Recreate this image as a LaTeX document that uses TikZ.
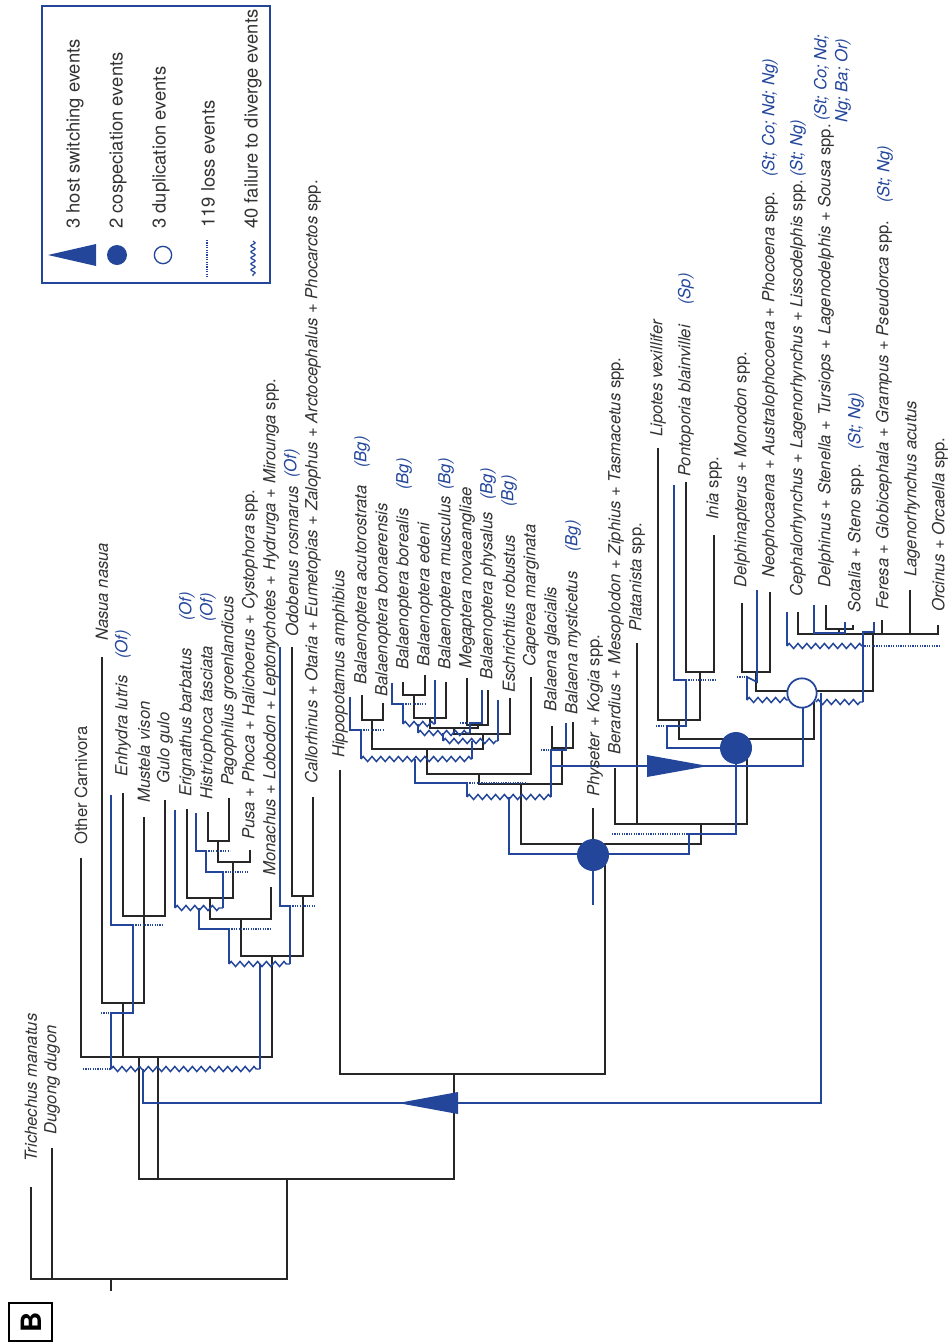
\documentclass[tikz,border=0pt]{standalone}
\usepackage{fontspec}
\setmainfont{TeX Gyre Heros}
\usetikzlibrary{decorations.pathmorphing}
\definecolor{psite}{RGB}{35,70,155}
\newcommand{\txn}[1]{\textit{#1}}
\tikzset{
  host/.style={draw=black!85, line width=1pt},
  para/.style={draw=psite, line width=1.25pt},
  loss/.style={draw=psite, line width=1.1pt, dash pattern=on 0.9pt off 0.9pt},
  ftd/.style={draw=psite, line width=1.1pt, decorate, decoration={zigzag, segment length=6.6pt, amplitude=1.9pt}},
  tipl/.style={rotate=90, anchor=west, inner sep=0pt, text=black!80, font=\fontsize{12.5}{14}\selectfont},
  legl/.style={tipl, font=\fontsize{13.8}{15}\selectfont},
  note/.style={tipl, text=psite, font=\fontsize{12.5}{14}\selectfont\itshape},
  evc/.style={circle, fill=psite, inner sep=0pt, minimum size=24pt},
  evd/.style={circle, draw=psite, fill=white, line width=1.3pt, inner sep=0pt, minimum size=22pt}
}
\begin{document}
\begin{tikzpicture}[x=0.75pt,y=0.75pt,yscale=-1,xscale=1]
\useasboundingbox (0,0) rectangle (949,1343);

%Legend
\draw [psite, line width=1.3pt] (42,6) rectangle (270,283);
\fill [psite] (96,244) -- (96,266) -- (48,255) -- cycle;
\node [evc, minimum size=15pt] (lgc) at (117,255) {};
\node [evd, minimum size=13pt, line width=1pt] (lgd) at (163,255) {};
\draw [loss, line width=0.8pt] (207,240) -- (207,277);
\draw [psite, line width=0.9pt, decorate, decoration={snake, segment length=4.5pt, amplitude=1.6pt}] (253,241) -- (253,276);
% Text Node
\draw (75,229) node [legl] (lg1) {3 host switching events};
\draw (118,229) node [legl] (lg2) {2 cospeciation events};
\draw (161,229) node [legl] (lg3) {3 duplication events};
\draw (208,228) node [legl] (lg4) {119 loss events};
\draw (253,229) node [legl] (lg5) {40 failure to diverge events};

%Panel letter
\draw [line width=1.6pt] (9,1303) rectangle (52,1341);
\draw (31,1322) node [rotate=90, font=\fontsize{21}{21}\selectfont\bfseries] (panel) {B};

%Host tree: root and Sirenia
\draw [host] (31,1187) -- (31,1279) -- (287,1279) -- (287,1179);
\draw [host] (52,1148) -- (52,1279);
\draw [host] (111,1279) -- (111,1291);
\draw [host] (139,1057) -- (139,1179) -- (454,1179) -- (454,1074);
\draw [host] (158,1057) -- (158,1179);
\draw [host] (340,770) -- (340,1074) -- (605,1074) -- (605,855);

%Host tree: Carnivora
\draw [host] (81,858) -- (81,1057) -- (272,1057) -- (272,956);
\draw [host] (102,657) -- (102,1003) -- (144,1003) -- (144,817);
\draw [host] (123,1003) -- (123,1057);
\draw [host] (123,793) -- (123,916) -- (165,916) -- (165,800);
\draw [host] (187,809) -- (187,898) -- (233,898) -- (233,862);
\draw [host] (218,841) -- (218,862) -- (250,862) -- (250,850);
\draw [host] (208,812) -- (208,841) -- (229,841) -- (229,798);
\draw [host] (210,898) -- (210,919) -- (271,919) -- (271,887);
\draw [host] (241,919) -- (241,956) -- (303,956) -- (303,896);
\draw [host] (292,647) -- (292,896) -- (313,896) -- (313,797);

%Host tree: Mysticeti
\draw [host] (362,695) -- (362,720) -- (383,720) -- (383,703);
\draw [host] (372,720) -- (372,749) -- (483,749) -- (483,734);
\draw [host] (403,682) -- (403,695) -- (425,695) -- (425,675);
\draw [host] (414,695) -- (414,718) -- (446,718) -- (446,682);
\draw [host] (467,678) -- (467,725) -- (488,725) -- (488,690);
\draw [host] (430,718) -- (430,728) -- (478,728) -- (478,725);
\draw [host] (454,728) -- (454,734) -- (510,734) -- (510,698);
\draw [host] (427,749) -- (427,774) -- (531,774) -- (531,677);
\draw [host] (552,726) -- (552,748) -- (573,748) -- (573,722);
\draw [host] (479,774) -- (479,784) -- (562,784) -- (562,748);
\draw [host] (521,784) -- (521,844) -- (701,844) -- (701,824);

%Host tree: Odontoceti
\draw [host] (593,808) -- (593,855);
\draw [host] (615,768) -- (615,824) -- (747,824) -- (747,748);
\draw [host] (637,643) -- (637,824);
\draw [host] (658,448) -- (658,720) -- (700,720) -- (700,672);
\draw [host] (686,482) -- (686,672) -- (714,672) -- (714,535);
\draw [host] (679,720) -- (679,739) -- (814,739) -- (814,693);
\draw [host] (742,603) -- (742,672) -- (770,672) -- (770,592);
\draw [host] (756,672) -- (756,691) -- (873,691) -- (873,634);
\draw [host] (798,612) -- (798,634) -- (938,634) -- (938,625);
\draw [host] (826,605) -- (826,629) -- (853,629) -- (853,625);
\draw [host] (839,629) -- (839,634);
\draw [host] (882,620) -- (882,634);
\draw [host] (910,590) -- (910,634);

%Parasite tracks: Carnivora
\draw [para] (821,693) -- (821,1103) -- (143,1103) -- (143,1069);
\draw [ftd] (111,1069) -- (260,1069);
\draw [loss] (83,1069) -- (111,1069);
\draw [para] (111,1069) -- (111,1013) -- (133,1013) -- (133,925) -- (111,925) -- (111,795);
\draw [loss] (101,1013) -- (111,1013);
\draw [loss] (133,925) -- (163,925);
\draw [para] (260,1069) -- (260,964);
\draw [ftd] (229,964) -- (290,964);
\draw [para] (229,964) -- (229,929) -- (199,929) -- (199,908);
\draw [loss] (229,929) -- (270,929);
\draw [para] (290,964) -- (290,906) -- (280,906) -- (280,647);
\draw [loss] (290,906) -- (315,906);
\draw [ftd] (175,908) -- (223,908);
\draw [para] (175,908) -- (175,810);
\draw [para] (223,908) -- (223,872) -- (206,872) -- (206,851) -- (196,851) -- (196,813);
\draw [loss] (223,872) -- (249,872);
\draw [loss] (206,851) -- (230,851);

%Parasite tracks: Mysticeti
\draw [para] (593,855) -- (593,905);
\draw [para] (509,797) -- (509,854) -- (689,854) -- (689,834) -- (736,834) -- (736,748);
\draw [loss] (612,834) -- (689,834);
\draw [ftd] (467,797) -- (551,797);
\draw [para] (467,797) -- (467,783) -- (415,783) -- (415,759);
\draw [loss] (467,783) -- (527,783);
\draw [para] (551,797) -- (551,750) -- (566,750) -- (566,723);
\draw [loss] (541,750) -- (551,750);
\draw [para] (551,766) -- (803,766) -- (803,693);
\draw [ftd] (361,759) -- (472,759);
\draw [para] (361,759) -- (361,730) -- (350,730) -- (350,697);
\draw [loss] (361,730) -- (383,730);
\draw [para] (472,759) -- (472,741);
\draw [ftd] (443,741) -- (498,741);
\draw [para] (498,741) -- (498,700);
\draw [para] (443,741) -- (443,733);
\draw [ftd] (418,733) -- (470,733);
\draw [para] (470,733) -- (470,723) -- (482,723) -- (482,690);
\draw [loss] (460,723) -- (470,723);
\draw [para] (418,733) -- (418,724);
\draw [ftd] (403,724) -- (435,724);
\draw [para] (435,724) -- (435,680);
\draw [para] (403,724) -- (403,704) -- (392,704) -- (392,683);
\draw [loss] (403,704) -- (426,704);

%Parasite tracks: Odontoceti
\draw [para] (736,748) -- (667,748) -- (667,726) -- (686,726) -- (686,680) -- (674,680) -- (674,485);
\draw [loss] (656,726) -- (667,726);
\draw [loss] (686,680) -- (715,680);
\draw [ftd] (747,700) -- (788,700);
\draw [ftd] (816,702) -- (863,702);
\draw [para] (757,590) -- (757,682) -- (747,677) -- (747,700);
\draw [loss] (737,677) -- (747,677);
\draw [para] (863,702) -- (863,632) -- (874,632) -- (874,622);
\draw [ftd] (787,646) -- (862,646);
\draw [para] (787,646) -- (787,612);
\draw [loss] (862,646) -- (940,646);
\draw [para] (814,605) -- (814,633) -- (845,633) -- (845,622);

%Events
\fill [psite] (458,1092) -- (458,1114) -- (398,1103) -- cycle;
\fill [psite] (647,755) -- (647,777) -- (708,766) -- cycle;
\node [evc] (cosp1) at (593,855) {};
\node [evc] (cosp2) at (736,748) {};
\node [evd] (dup1) at (802,693) {};

% Text Node
\draw (31,1162) node [tipl] (trich) {\txn{Trichechus manatus}};
\draw (52,1135) node [tipl] (dugong) {\txn{Dugong dugon}};
\draw (81,845) node [tipl] (othcarn) {Other Carnivora};
\draw (102,641) node [tipl] (nasua) {\txn{Nasua nasua}};
\draw (123,777) node [tipl] (enhydra) {\txn{Enhydra lutris}};
\draw (123,659) node [note] (enhydrap) {(Of)};
\draw (144,803) node [tipl] (mustela) {\txn{Mustela vison}};
\draw (165,784) node [tipl] (gulo) {\txn{Gulo gulo}};
\draw (187,797) node [tipl] (erign) {\txn{Erignathus barbatus}};
\draw (187,621) node [note] (erignp) {(Of)};
\draw (208,800) node [tipl] (histrio) {\txn{Histriophoca fasciata}};
\draw (208,622) node [note] (histriop) {(Of)};
\draw (229,786) node [tipl] (pago) {\txn{Pagophilus groenlandicus}};
\draw (250,840) node [tipl] (pusa) {\txn{Pusa} + \txn{Phoca} + \txn{Halichoerus} + \txn{Cystophora} spp.};
\draw (271,876) node [tipl] (monach) {\txn{Monachus} + \txn{Lobodon} + \txn{Leptonychotes} + \txn{Hydrurga} + \txn{Mirounga} spp.};
\draw (292,637) node [tipl] (odob) {\txn{Odobenus rosmarus}};
\draw (292,478) node [note] (odobp) {(Of)};
\draw (313,784) node [tipl] (callo) {\txn{Callorhinus} + \txn{Otaria} + \txn{Eumetopias} + \txn{Zalophus} + \txn{Arctocephalus} + \txn{Phocarctos} spp.};
\draw (340,758) node [tipl] (hippo) {\txn{Hippopotamus amphibius}};
\draw (362,685) node [tipl] (bacut) {\txn{Balaenoptera acutorostrata}};
\draw (362,468) node [note] (bacutp) {(Bg)};
\draw (383,697) node [tipl] (bbon) {\txn{Balaenoptera bonaerensis}};
\draw (404,670) node [tipl] (bbor) {\txn{Balaenoptera borealis}};
\draw (404,490) node [note] (bborp) {(Bg)};
\draw (425,667) node [tipl] (bede) {\txn{Balaenoptera edeni}};
\draw (446,670) node [tipl] (bmus) {\txn{Balaenoptera musculus}};
\draw (446,490) node [note] (bmusp) {(Bg)};
\draw (467,669) node [tipl] (mega) {\txn{Megaptera novaeangliae}};
\draw (488,680) node [tipl] (bphy) {\txn{Balaenoptera physalus}};
\draw (488,500) node [note] (bphyp) {(Bg)};
\draw (509,693) node [tipl] (esch) {\txn{Eschrichtius robustus}};
\draw (509,507) node [note] (eschp) {(Bg)};
\draw (531,667) node [tipl] (cape) {\txn{Caperea marginata}};
\draw (552,712) node [tipl] (bglac) {\txn{Balaena glacialis}};
\draw (573,715) node [tipl] (bmyst) {\txn{Balaena mysticetus}};
\draw (573,552) node [note] (bmystp) {(Bg)};
\draw (595,797) node [tipl] (physet) {\txn{Physeter} + \txn{Kogia} spp.};
\draw (616,755) node [tipl] (berard) {\txn{Berardius} + \txn{Mesoplodon} + \txn{Ziphius} + \txn{Tasmacetus} spp.};
\draw (637,632) node [tipl] (plat) {\txn{Platanista} spp.};
\draw (658,437) node [tipl] (lipot) {\txn{Lipotes vexillifer}};
\draw (686,477) node [tipl] (pontop) {\txn{Pontoporia blainvillei}};
\draw (686,305) node [note] (pontopp) {(Sp)};
\draw (714,520) node [tipl] (inia) {\txn{Inia} spp.};
\draw (742,588) node [tipl] (delphap) {\txn{Delphinapterus} + \txn{Monodon} spp.};
\draw (770,578) node [tipl] (neoph) {\txn{Neophocaena} + \txn{Australophocoena} + \txn{Phocoena} spp.};
\draw (770,177) node [note] (neophp) {(St; Co; Nd; Ng)};
\draw (798,597) node [tipl] (cephal) {\txn{Cephalorhynchus} + \txn{Lagenorhynchus} + \txn{Lissodelphis} spp.};
\draw (798,177) node [note] (cephalp) {(St; Ng)};
\draw (826,588) node [tipl] (delphin) {\txn{Delphinus} + \txn{Stenella} + \txn{Tursiops} + \txn{Lagenodelphis} + \txn{Sousa} spp.};
\draw (822,121) node [note] (delphinp) {(St; Co; Nd;};
\draw (843,123) node [note] (delphinq) {Ng; Ba; Or)};
\draw (856,613) node [tipl] (sotal) {\txn{Sotalia} + \txn{Steno} spp.};
\draw (856,450) node [note] (sotalp) {(St; Ng)};
\draw (884,610) node [tipl] (feresa) {\txn{Feresa} + \txn{Globicephala} + \txn{Grampus} + \txn{Pseudorca} spp.};
\draw (885,203) node [note] (feresap) {(St; Ng)};
\draw (912,577) node [tipl] (lagac) {\txn{Lagenorhynchus acutus}};
\draw (940,612) node [tipl] (orcin) {\txn{Orcinus} + \txn{Orcaella} spp.};

\end{tikzpicture}
\end{document}
